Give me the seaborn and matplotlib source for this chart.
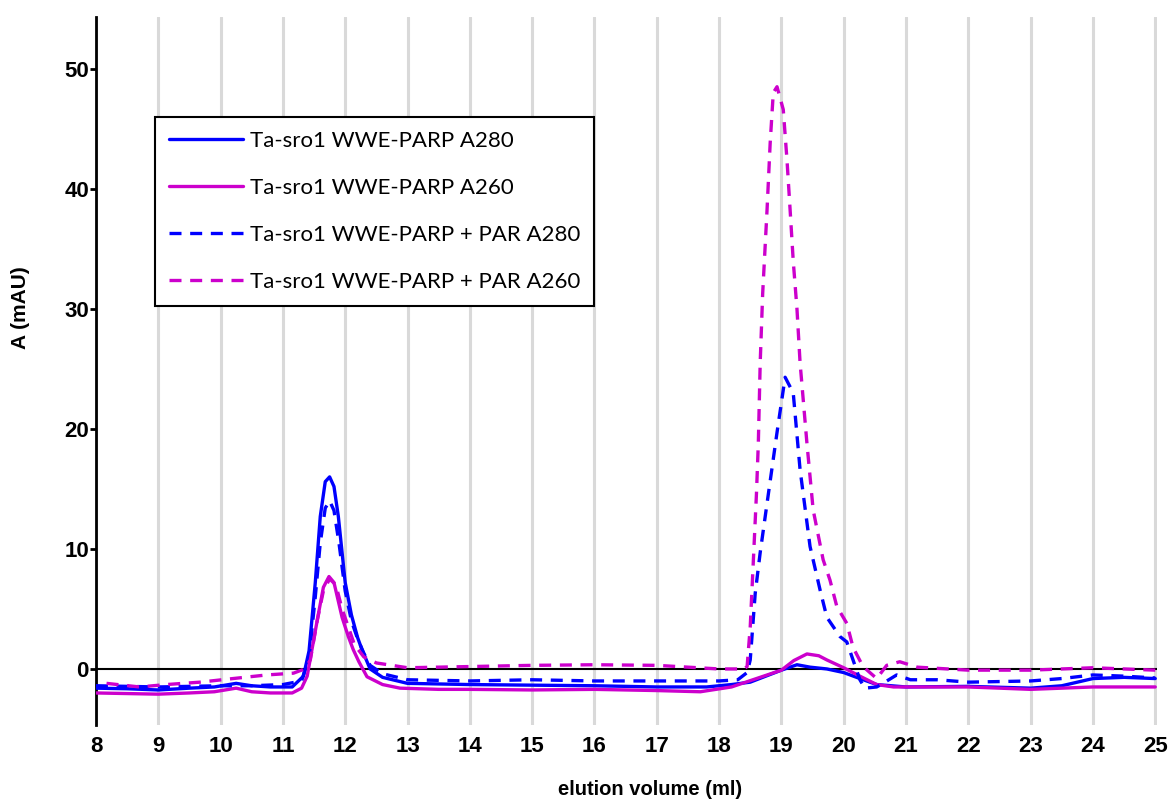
import numpy as np
import pandas as pd
import matplotlib
matplotlib.use("Agg")
import matplotlib.pyplot as plt
import seaborn as sns

sns.set_style("white")
plt.rcParams['font.family'] = ['Liberation Sans', 'DejaVu Sans']

# --- data (elution volume in ml, A in mAU) ---
x_a280 = [8.0, 8.5, 9.0, 9.5, 9.9, 10.25, 10.5, 10.8, 11.15, 11.33, 11.42, 11.52, 11.6, 11.68,
          11.75, 11.82, 11.89, 12.0, 12.1, 12.2, 12.27, 12.4, 12.6, 13.0, 14.0, 15.0, 16.0, 17.0,
          17.8, 18.2, 18.5, 18.8, 19.0, 19.25, 19.46, 19.73, 20.0, 20.26, 20.53, 21.0, 22.0,
          23.0, 23.5, 24.0, 24.5, 25.0]
y_a280 = [-1.6, -1.65, -1.75, -1.6, -1.5, -1.2, -1.4, -1.5, -1.5, -0.6, 1.5, 7.2, 12.7, 15.6,
          16.0, 15.2, 12.7, 7.2, 4.5, 2.6, 1.6, 0.0, -0.7, -1.2, -1.3, -1.35, -1.4, -1.5,
          -1.5, -1.3, -1.1, -0.5, -0.1, 0.35, 0.15, 0.0, -0.3, -0.8, -1.3, -1.5, -1.45,
          -1.6, -1.4, -0.8, -0.7, -0.8]

x_a260 = [8.0, 8.5, 9.0, 9.5, 9.9, 10.25, 10.5, 10.8, 11.15, 11.3, 11.39, 11.48, 11.56, 11.65,
          11.74, 11.82, 11.95, 12.05, 12.13, 12.22, 12.35, 12.6, 12.88, 13.5, 14.0, 15.0, 16.0,
          17.0, 17.7, 18.2, 18.6, 19.0, 19.2, 19.41, 19.6, 19.73, 20.0, 20.26, 20.53, 20.8,
          21.0, 22.0, 23.0, 23.5, 24.0, 25.0]
y_a260 = [-2.0, -2.05, -2.1, -2.0, -1.9, -1.6, -1.9, -2.0, -2.0, -1.6, -0.6, 2.0, 4.3, 6.8,
          7.7, 7.2, 4.3, 2.7, 1.6, 0.6, -0.65, -1.3, -1.6, -1.7, -1.7, -1.75, -1.7,
          -1.8, -1.9, -1.5, -0.8, -0.1, 0.7, 1.25, 1.1, 0.75, 0.1, -0.6, -1.3, -1.5,
          -1.5, -1.5, -1.7, -1.6, -1.5, -1.5]

x_par280 = [8.0, 9.0, 10.0, 10.5, 11.0, 11.3, 11.42, 11.52, 11.6, 11.68, 11.75, 11.82, 11.9,
            12.0, 12.1, 12.2, 12.3, 12.4, 12.6, 13.0, 14.0, 15.0, 16.0, 17.0, 18.0, 18.3,
            18.45, 18.5, 18.58, 18.66, 18.77, 18.93, 19.06, 19.19, 19.3, 19.46, 19.62, 19.73,
            19.94, 20.05, 20.15, 20.26, 20.34, 20.53, 20.63, 20.85, 21.07, 21.5, 22.0, 23.0,
            23.5, 24.0, 24.5, 25.0]
y_par280 = [-1.4, -1.5, -1.4, -1.4, -1.3, -1.0, 1.0, 6.0, 10.5, 13.4, 14.0, 13.2, 10.5,
            6.5, 4.0, 2.5, 1.3, 0.3, -0.4, -0.9, -1.0, -0.9, -1.0, -1.0, -1.0, -0.9,
            -0.3, 0.75, 6.3, 9.7, 13.8, 19.7, 24.3, 23.0, 16.6, 10.2, 6.6, 4.3,
            2.7, 2.25, 0.75, -0.9, -1.6, -1.5, -1.2, -0.5, -0.9, -0.9, -1.1, -1.0,
            -0.8, -0.5, -0.6, -0.75]

x_par260 = [8.17, 8.7, 9.13, 9.67, 10.2, 10.74, 11.17, 11.35, 11.44, 11.55, 11.65, 11.75,
            11.85, 11.95, 12.05, 12.15, 12.3, 12.5, 13.0, 14.0, 15.0, 16.0, 17.0, 18.0, 18.4,
            18.45, 18.5, 18.55, 18.6, 18.63, 18.66, 18.7, 18.77, 18.82, 18.87, 18.93, 19.03,
            19.09, 19.14, 19.19, 19.25, 19.3, 19.41, 19.51, 19.67, 19.78, 19.89, 20.05, 20.15,
            20.31, 20.53, 20.69, 20.9, 21.18, 22.0, 23.0, 24.0, 25.0]
y_par260 = [-1.2, -1.5, -1.3, -1.1, -0.8, -0.5, -0.35, 0.0, 0.75, 4.0, 6.5, 7.5,
            7.0, 5.0, 3.5, 2.0, 1.0, 0.5, 0.1, 0.2, 0.3, 0.35, 0.3, 0.0, 0.0,
            0.2, 3.5, 9.0, 14.6, 18.8, 25.5, 31.3, 38.25, 43.8, 48.0, 48.5, 46.6,
            42.4, 38.25, 34.0, 30.0, 25.5, 18.8, 13.25, 9.1, 7.4, 5.2, 3.8, 1.8,
            0.2, -0.8, 0.3, 0.6, 0.15, -0.1, -0.1, 0.1, -0.1]

labels = ["Ta-sro1 WWE-PARP A280", "Ta-sro1 WWE-PARP A260",
          "Ta-sro1 WWE-PARP + PAR A280", "Ta-sro1 WWE-PARP + PAR A260"]
blue = "#0000ff"
magenta = "#cc00cc"

fig = plt.figure(figsize=(11.7, 7.99), dpi=100)
ax = fig.add_axes([0.082, 0.0926, 0.907, 0.886])

# vertical grid at every ml
for v in range(8, 26):
    ax.axvline(v, color="#d9d9d9", lw=2.2, zorder=0)
ax.axhline(0, color="black", lw=1.5, zorder=1)

series = [(x_a280, y_a280, labels[0], blue, False),
          (x_a260, y_a260, labels[1], magenta, False),
          (x_par280, y_par280, labels[2], blue, True),
          (x_par260, y_par260, labels[3], magenta, True)]
for xs, ys, lab, col, dashed in series:
    df = pd.DataFrame({"x": xs, "y": ys})
    sns.lineplot(data=df, x="x", y="y", ax=ax, color=col, lw=2.4,
                 sort=False, estimator=None, label=lab, zorder=3)
    if dashed:
        ax.lines[-1].set_dashes((3.6, 2.6))

ax.set_xlim(8, 25.03)
ax.set_ylim(-4.67, 54.3)
ax.set_xticks(range(8, 26))
ax.set_yticks([0, 10, 20, 30, 40, 50])
ax.set_yticklabels(["0", "10", "20", "30", "40", "50"])

for s in ["top", "right", "bottom"]:
    ax.spines[s].set_visible(False)
ax.spines["left"].set_linewidth(2)
ax.spines["left"].set_color("black")

ax.tick_params(axis="x", length=0, pad=8, labelsize=16, labelcolor="black")
ax.tick_params(axis="y", length=4, width=2, pad=1, labelsize=16, left=True,
               color="black", labelcolor="black")
for t in ax.get_xticklabels() + ax.get_yticklabels():
    t.set_fontweight("bold")

ax.set_xlabel("elution volume (ml)", fontsize=14.5, fontweight="bold", color="black")
ax.set_ylabel("A (mAU)", fontsize=15, fontweight="bold", color="black")
ax.xaxis.set_label_coords(0.522, -0.077)
ax.yaxis.set_label_coords(-0.062, 0.59)

leg = ax.legend(loc="upper left", bbox_to_anchor=(0.0556, 0.859), borderaxespad=0,
                frameon=True, fancybox=False, framealpha=1, edgecolor="black",
                prop={"family": "Lato", "size": 16}, handlelength=3.35,
                handletextpad=0.3, labelspacing=1.22, borderpad=0.62)
leg.get_frame().set_linewidth(1.5)
for t in leg.get_texts():
    t.set_color("black")

fig.savefig("out.png", dpi=100)
